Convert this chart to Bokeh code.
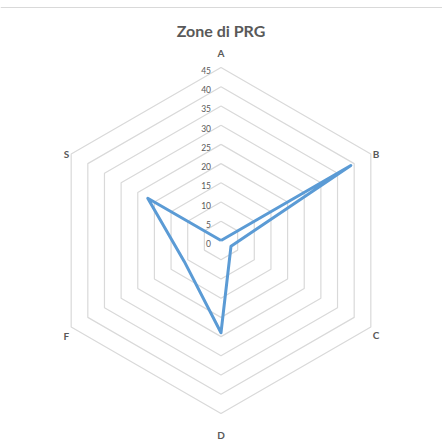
import numpy as np
from bokeh.plotting import figure
from bokeh.models import Range1d
from bokeh.core.properties import value
from bokeh.embed import file_html
from bokeh.resources import INLINE

# ---- data ----
title_text = "Zone di PRG"
categories = ["A", "B", "C", "D", "F", "S"]
values = [0, 39, 3, 24, 11, 22]
tick_values = [0, 5, 10, 15, 20, 25, 30, 35, 40, 45]
tick_labels = ["0", "5", "10", "15", "20", "25", "30", "35", "40", "45"]
r_max = 45

# ---- layout ----
W, H = 442, 439
k = 173.0 / r_max          # px per value unit
cx, cy = 220.5, 240.0      # centre of radar in canvas px

FONT = "Lato"
TXT = "#595959"
GRID = "#D9D9D9"
LINE = "#5B9BD5"

p = figure(width=W, height=H, output_backend="svg", toolbar_location=None,
           x_range=Range1d(-cx / k, (W - cx) / k),
           y_range=Range1d(-(H - cy) / k, cy / k),
           min_border=0, outline_line_color=None)
p.axis.visible = False
p.grid.visible = False
p.background_fill_color = "white"
p.border_fill_color = "white"

n = len(categories)
ang = np.deg2rad(90 - 360.0 / n * np.arange(n))
cosA, sinA = np.cos(ang), np.sin(ang)

# chart area top border
p.line(x=[-cx / k, (W - cx) / k], y=[(cy - 7) / k, (cy - 7) / k], line_color=GRID, line_width=1)

# rings
xs, ys = [], []
for t in tick_values[1:]:
    xs.append(list(np.append(t * cosA, t * cosA[0])))
    ys.append(list(np.append(t * sinA, t * sinA[0])))
p.multi_line(xs=xs, ys=ys, line_color=GRID, line_width=1.2)

# data line
v = np.array(values, dtype=float)
p.line(x=list(np.append(v * cosA, v[0] * cosA[0])),
       y=list(np.append(v * sinA, v[0] * sinA[0])),
       line_color=LINE, line_width=3, line_join="round")

# tick labels
p.text(x=[0] * len(tick_values), y=tick_values, text=tick_labels,
       text_align="right", text_baseline="middle", x_offset=-10, y_offset=3,
       text_font=value(FONT), text_font_size="8.5px", text_color=TXT)

# category labels
def lab(i, align, baseline, xo, yo):
    p.text(x=[r_max * cosA[i]], y=[r_max * sinA[i]], text=[categories[i]],
           text_align=align, text_baseline=baseline, x_offset=xo, y_offset=yo,
           text_font=value(FONT), text_font_style="bold", text_font_size="10px",
           text_color=TXT)

lab(0, "center", "middle", 0, -15)
lab(1, "left", "middle", 2, 0)
lab(2, "left", "middle", 2, 8)
lab(3, "center", "middle", 0, 21)
lab(4, "right", "middle", -2, 8.5)
lab(5, "right", "middle", -2, 0)

# title
p.text(x=[0], y=[(cy - 30) / k], text=[title_text], text_align="center",
       text_baseline="middle", text_font=value(FONT), text_font_style="bold",
       text_font_size="16px", text_color=TXT)

open("out.html", "w").write(file_html(p, INLINE))
